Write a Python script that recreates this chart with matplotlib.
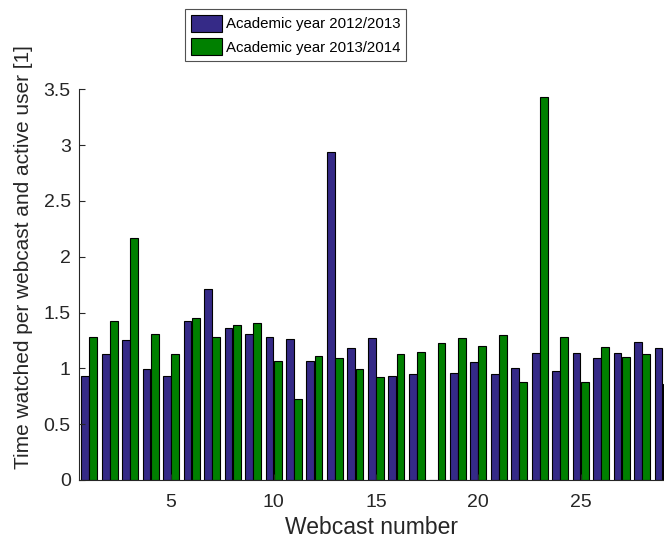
import matplotlib
matplotlib.use("Agg")
import matplotlib.pyplot as plt
import numpy as np

plt.rcParams['font.family'] = ['Liberation Sans', 'DejaVu Sans']

webcast = np.arange(1, 30)
year_2012_2013 = [0.93, 1.13, 1.25, 0.99, 0.93, 1.42, 1.71, 1.36, 1.31, 1.28,
                  1.26, 1.07, 2.94, 1.18, 1.27, 0.93, 0.95, 0.0, 0.96, 1.06,
                  0.95, 1.00, 1.14, 0.98, 1.14, 1.09, 1.14, 1.24, 1.18]
year_2013_2014 = [1.28, 1.42, 2.17, 1.31, 1.13, 1.45, 1.28, 1.39, 1.41, 1.07,
                  0.73, 1.11, 1.09, 0.99, 0.92, 1.13, 1.15, 1.23, 1.27, 1.20,
                  1.30, 0.88, 3.43, 1.28, 0.88, 1.19, 1.10, 1.13, 0.86]
labels = ['Academic year 2012/2013', 'Academic year 2013/2014']
colors = ['#352A87', '#008000']

fig = plt.figure(figsize=(6.64, 5.42), dpi=100)
ax = fig.add_axes([79/664, 62/542, (664-79)/664, (480-89.3)/542])

w = 0.38
ax.bar(webcast - 0.2, year_2012_2013, width=w, color=colors[0], edgecolor='black',
       linewidth=0.8, label=labels[0])
ax.bar(webcast + 0.2, year_2013_2014, width=w, color=colors[1], edgecolor='black',
       linewidth=0.8, label=labels[1])

ax.set_xlim(0.5, 29.07)
ax.set_ylim(0, 3.5)
ax.set_xticks([5, 10, 15, 20, 25])
ax.set_yticks(np.arange(0, 3.51, 0.5))
ax.set_yticklabels(['0', '0.5', '1', '1.5', '2', '2.5', '3', '3.5'])
ax.tick_params(direction='in', labelsize=14, length=4, width=0.8, colors='#262626')
ax.tick_params(axis='x', pad=10)
ax.tick_params(axis='y', pad=6)
for s in ['top', 'right']:
    ax.spines[s].set_visible(False)
for s in ['left', 'bottom']:
    ax.spines[s].set_color('#262626')
    ax.spines[s].set_linewidth(0.8)

ax.set_xlabel('Webcast number', fontsize=16.5, color='#262626', labelpad=4)
ax.set_ylabel('Time watched per webcast and active user [1]', fontsize=15,
              color='#262626')
ax.yaxis.set_label_coords(-0.078, 0.57)

leg = fig.legend(loc='center', bbox_to_anchor=(295.5/664, 1 - 35/542), fontsize=10.8,
                 frameon=True, fancybox=False, edgecolor='#262626',
                 handlelength=2.07, handleheight=1.4, handletextpad=0.27,
                 borderpad=0.4, labelspacing=0.4, borderaxespad=0)
leg.get_frame().set_linewidth(0.8)

fig.savefig('out.png', dpi=100)
